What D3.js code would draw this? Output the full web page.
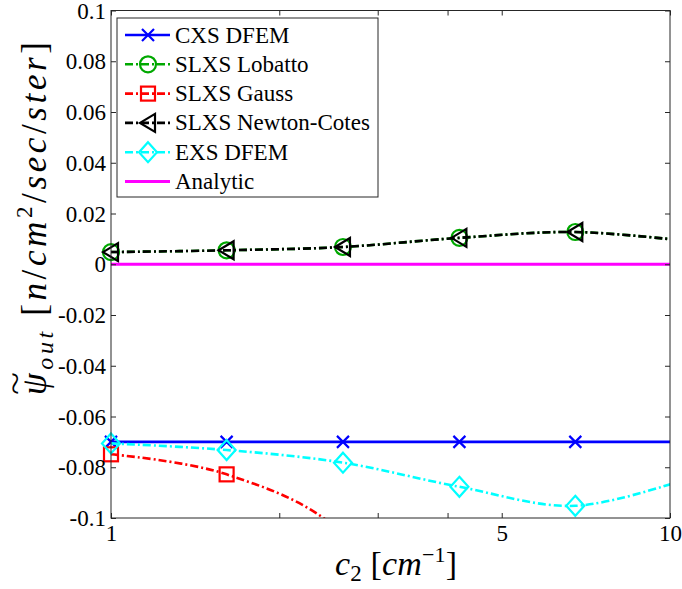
<!DOCTYPE html>
<html>
<head>
<meta charset="utf-8">
<script src="https://cdn.jsdelivr.net/npm/d3@7"></script>
<style>
  body { margin: 0; background: #fff; }
  svg { display: block; }
</style>
</head>
<body>
<div id="chart"></div>
<script>
// c2 values (log axis), marker positions
var c2 = [1, 1.61, 2.6, 4.2, 6.77, 10.9];

// series values
var cxsDfem = [-0.07, -0.07, -0.07, -0.07, -0.07, -0.07];
var slxsLobatto = [0.0048, 0.0055, 0.0068, 0.0104, 0.0127, 0.009];
var slxsGauss = [-0.0749, -0.0828, -0.106, -0.163, -0.25, -0.35];
var slxsNewtonCotes = [0.0048, 0.0055, 0.0068, 0.0104, 0.0127, 0.009];
var exsDfem = [-0.0706, -0.0732, -0.0782, -0.0877, -0.0952, -0.084];
var analytic = [0, 0, 0, 0, 0, 0];

var seriesNames = ["CXS DFEM", "SLXS Lobatto", "SLXS Gauss", "SLXS Newton-Cotes", "EXS DFEM", "Analytic"];

// tick labels
var yTicks = [0.1, 0.08, 0.06, 0.04, 0.02, 0, -0.02, -0.04, -0.06, -0.08, -0.1];
var yTickLabels = ["0.1", "0.08", "0.06", "0.04", "0.02", "0", "-0.02", "-0.04", "-0.06", "-0.08", "-0.1"];
var xTicks = [1, 2, 3, 4, 5, 10];
var xTickLabels = ["1", "", "", "", "5", "10"];

var W = 682, H = 589;
var plotLeft = 111, plotRight = 670, plotTop = 10.5, plotBottom = 518;
var SERIF = "'Liberation Serif', 'Times New Roman', serif";

var svg = d3.select("#chart").append("svg")
  .attr("width", W).attr("height", H);

var x = d3.scaleLog().domain([1, 10]).range([plotLeft, plotRight]);
var y = d3.scaleLinear().domain([-0.1, 0.1]).range([plotBottom, plotTop]);

svg.append("defs").append("clipPath").attr("id", "plotClip")
  .append("rect")
  .attr("x", plotLeft).attr("y", plotTop)
  .attr("width", plotRight - plotLeft).attr("height", plotBottom - plotTop);

//series styles
var styles = [
  {data: cxsDfem, color: "#0000ff", dash: null, marker: "x"},
  {data: slxsLobatto, color: "#00a800", dash: "8,3,2,3", marker: "o"},
  {data: slxsGauss, color: "#ff0000", dash: "8,3,2,3", marker: "s"},
  {data: slxsNewtonCotes, color: "#000000", dash: "8,3,2,3", marker: "<"},
  {data: exsDfem, color: "#00ffff", dash: "8,3,2,3", marker: "d"},
  {data: analytic, color: "#ff00ff", dash: null, marker: null}
];

function drawMarker(g, type, cx, cy, color) {
  var m = g.append("g").attr("transform", "translate(" + cx + "," + cy + ")")
    .attr("fill", "none").attr("stroke", color).attr("stroke-width", 2.2);
  if (type == "x") {
    m.append("path").attr("d", "M-6,-6L6,6M-6,6L6,-6");
  } else if (type == "o") {
    m.append("circle").attr("r", 8);
  } else if (type == "s") {
    m.append("rect").attr("x", -7).attr("y", -7).attr("width", 14).attr("height", 14);
  } else if (type == "<") {
    m.append("path").attr("d", "M-8,0L7,-9L7,9Z");
  } else if (type == "d") {
    m.append("path").attr("d", "M0,-10L9,0L0,10L-9,0Z");
  }
}

var line = d3.line()
  .x(function(d) { return x(d[0]); })
  .y(function(d) { return y(d[1]); })
  .curve(d3.curveCatmullRom.alpha(0));

var plot = svg.append("g");

styles.forEach(function(s) {
  var pts = c2.map(function(c, i) { return [c, s.data[i]]; });
  plot.append("path")
    .attr("d", line(pts))
    .attr("clip-path", "url(#plotClip)")
    .attr("fill", "none")
    .attr("stroke", s.color)
    .attr("stroke-width", s.color == "#ff00ff" ? 3 : 2.6)
    .attr("stroke-dasharray", s.dash);
  if (s.marker) {
    pts.forEach(function(p) {
      if (p[0] <= 10 && p[1] >= -0.1 && p[1] <= 0.1) {
        drawMarker(plot, s.marker, x(p[0]), y(p[1]), s.color);
      }
    });
  }
});

// axes
var axisColor = "#262626";

var yAxisL = svg.append("g").attr("transform", "translate(" + plotLeft + ",0)")
  .call(d3.axisLeft(y).tickValues(yTicks).tickSizeInner(-5).tickSizeOuter(0).tickPadding(5)
    .tickFormat(function(d, i) { return yTickLabels[i]; }));
var yAxisR = svg.append("g").attr("transform", "translate(" + plotRight + ",0)")
  .call(d3.axisRight(y).tickValues(yTicks).tickSizeInner(-5).tickSizeOuter(0).tickFormat(""));
var xAxisB = svg.append("g").attr("transform", "translate(0," + plotBottom + ")")
  .call(d3.axisBottom(x).tickValues(xTicks).tickSizeInner(-5).tickSizeOuter(0).tickPadding(6)
    .tickFormat(function(d, i) { return xTickLabels[i]; }));
var xAxisT = svg.append("g").attr("transform", "translate(0," + plotTop + ")")
  .call(d3.axisTop(x).tickValues(xTicks).tickSizeInner(-5).tickSizeOuter(0).tickFormat(""));

[yAxisL, yAxisR, xAxisB, xAxisT].forEach(function(a) {
  a.attr("font-family", null).attr("font-size", null);
  a.select(".domain").remove();
  a.selectAll(".tick line").attr("stroke", axisColor);
  a.selectAll(".tick text")
    .style("font-family", SERIF)
    .style("font-size", "23px")
    .attr("fill", "#000");
});
yAxisL.selectAll(".tick text").attr("dy", "0.33em");
xAxisB.selectAll(".tick text").attr("dy", "0.75em");

svg.append("rect")
  .attr("x", plotLeft).attr("y", plotTop)
  .attr("width", plotRight - plotLeft).attr("height", plotBottom - plotTop)
  .attr("fill", "none").attr("stroke", axisColor).attr("stroke-width", 1);

// legend
var legend = svg.append("g");
legend.append("rect")
  .attr("x", 117).attr("y", 18).attr("width", 261).attr("height", 179)
  .attr("fill", "#fff").attr("stroke", axisColor).attr("stroke-width", 1);

styles.forEach(function(s, i) {
  var ly = 35 + i * 29.3;
  legend.append("line")
    .attr("x1", 125).attr("x2", 170).attr("y1", ly).attr("y2", ly)
    .attr("stroke", s.color)
    .attr("stroke-width", s.color == "#ff00ff" ? 3 : 2.6)
    .attr("stroke-dasharray", s.dash);
  if (s.marker) drawMarker(legend, s.marker, 148, ly, s.color);
  legend.append("text")
    .attr("x", 175).attr("y", ly)
    .attr("dy", "0.33em")
    .style("font-family", SERIF)
    .style("font-size", "23px")
    .text(seriesNames[i]);
});

// x label
var xl = svg.append("text")
  .attr("x", 335).attr("y", 575)
  .attr("textLength", 122)
  .attr("lengthAdjust", "spacing")
  .style("font-family", SERIF)
  .style("font-size", "34px");
xl.append("tspan").style("font-style", "italic").text("c");
xl.append("tspan").attr("dy", 6).style("font-size", "23px").text("2");
xl.append("tspan").attr("dy", -6).text(" [");
xl.append("tspan").style("font-style", "italic").text("cm");
xl.append("tspan").attr("dy", -13).style("font-size", "22px").text("\u22121");
xl.append("tspan").attr("dy", 13).text("]");

// y label (rotated)
var yl = svg.append("g").attr("transform", "translate(46,395) rotate(-90)");
var ylt = yl.append("text")
  .attr("x", 0).attr("y", 0)
  .attr("textLength", 353)
  .attr("lengthAdjust", "spacing")
  .style("font-family", SERIF)
  .style("font-size", "35px");
ylt.append("tspan").style("font-style", "italic").text("\u03c8");
ylt.append("tspan").attr("dy", 7).style("font-size", "24px").style("font-style", "italic").text("out");
ylt.append("tspan").attr("dy", -7).text(" [");
ylt.append("tspan").style("font-style", "italic").text("n");
ylt.append("tspan").text("/");
ylt.append("tspan").style("font-style", "italic").text("cm");
ylt.append("tspan").attr("dy", -14).style("font-size", "23px").text("2");
ylt.append("tspan").attr("dy", 14).text("/");
ylt.append("tspan").style("font-style", "italic").text("sec");
ylt.append("tspan").text("/");
ylt.append("tspan").style("font-style", "italic").text("ster");
ylt.append("tspan").text("]");
yl.append("text")
  .attr("x", 0).attr("y", -20)
  .attr("textLength", 23)
  .attr("lengthAdjust", "spacingAndGlyphs")
  .style("font-family", SERIF)
  .style("font-size", "32px")
  .text("~");
</script>
</body>
</html>
